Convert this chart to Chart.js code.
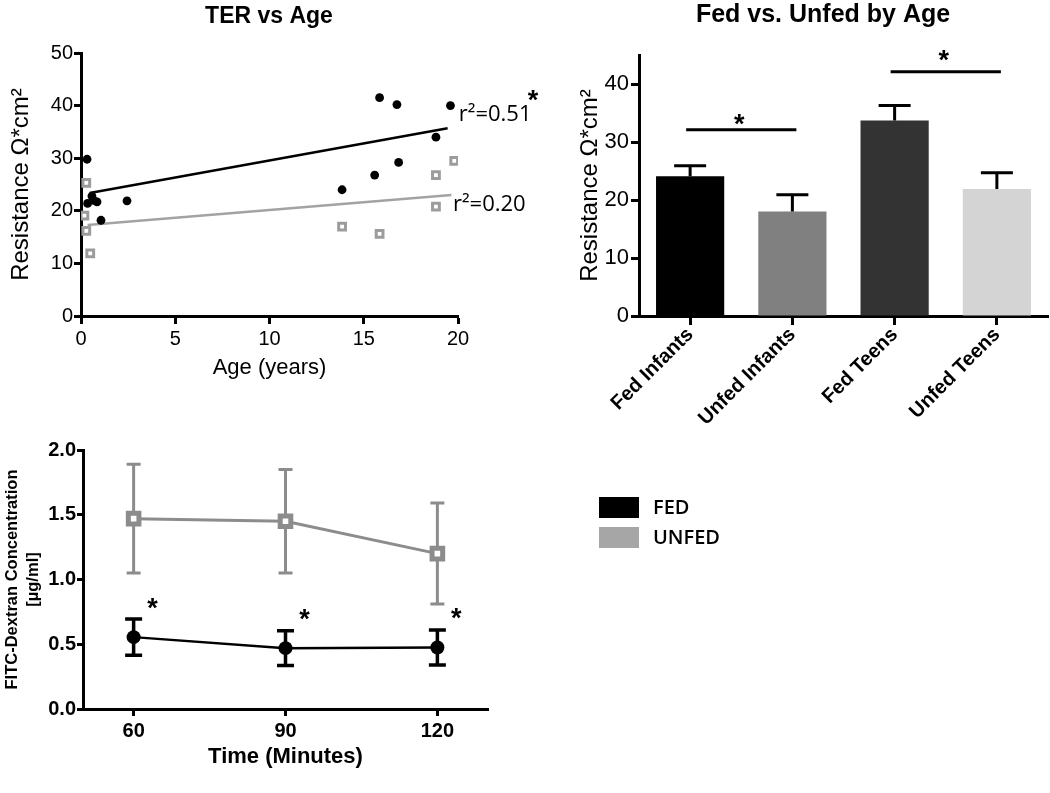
<!DOCTYPE html>
<html>
<head>
<meta charset="utf-8">
<title>TER and FITC-Dextran</title>
<script src="https://cdn.jsdelivr.net/npm/chart.js@4.4.1/dist/chart.umd.min.js"></script>
<style>
  body { margin: 0; background: #fff; }
  #wrap { position: relative; width: 1050px; height: 793px; overflow: hidden; }
  canvas { position: absolute; }
</style>
</head>
<body>
<div id="wrap">
  <canvas id="terAge" width="545" height="400" style="left:0;top:0"></canvas>
  <canvas id="fedBars" width="490" height="440" style="left:560px;top:0"></canvas>
  <canvas id="fitc" width="1050" height="373" style="left:0;top:420px"></canvas>
</div>
<script>
// TER vs Age (scatter + fitted lines)
let fedAge   = [0.32, 0.35, 0.58, 0.67, 0.85, 1.06, 2.44, 13.85, 15.58, 15.84, 16.76, 16.85, 18.83, 19.6];
let fedTer   = [29.8, 21.4, 22.8, 22.0, 21.7, 18.2, 21.9, 24.0, 26.8, 41.5, 40.2, 29.2, 34.0, 40.0];
let unfedAge = [0.28, 0.18, 0.28, 0.49, 13.85, 15.84, 18.83, 18.83, 19.8];
let unfedTer = [25.3, 19.1, 16.2, 11.9, 17.0, 15.6, 26.8, 20.8, 29.5];
let fedFitAge = [0.46, 19.45];
let fedFitTer = [23.4, 35.7];
let unfedFitAge = [0.35, 19.65];
let unfedFitTer = [17.3, 23.0];
let fitLabels = ['r²=0.51', 'r²=0.20'];
let ageTicks = [0, 5, 10, 15, 20];
let terTicks = [0, 10, 20, 30, 40, 50];

// Fed vs. Unfed by Age (mean + SEM)
let groups = ['Fed Infants', 'Unfed Infants', 'Fed Teens', 'Unfed Teens'];
let groupMean = [24.1, 18.0, 33.7, 21.9];
let groupSem = [1.8, 2.9, 2.6, 2.8];
let barTicks = [0, 10, 20, 30, 40];
let sigPairs = [[0, 1], [2, 3]];
let sigLevel = [32.1, 42.1];

// FITC-Dextran vs time
let minutes = [60, 90, 120];
let fedFitc = [0.555, 0.47, 0.475];
let fedFitcSem = [0.14, 0.135, 0.135];
let unfedFitc = [1.47, 1.45, 1.20];
let unfedFitcSem = [0.42, 0.40, 0.39];
let fitcTicks = [0, 0.5, 1.0, 1.5, 2.0];
let legendLabels = ['FED', 'UNFED'];

const FONT = "'Liberation Sans', Arial, sans-serif";
Chart.defaults.font.family = FONT;
Chart.defaults.color = '#000';
Chart.defaults.animation = false;
Chart.defaults.responsive = false;
Chart.defaults.plugins.legend.display = false;
Chart.defaults.plugins.tooltip.enabled = false;

function pairs(xs, ys) {
  return xs.map((x, i) => ({ x: x, y: ys[i] }));
}

function fixedTicks(list) {
  return function (scale) { scale.ticks = list.map(v => ({ value: v })); };
}

function axisLine(len) {
  return {
    grid: { drawOnChartArea: false, drawTicks: true, tickLength: len, tickWidth: 3, tickColor: '#000', offset: false },
    border: { display: true, color: '#000', width: 3 }
  };
}

// free text: x/y in data units, px/py in canvas pixels
const notes = {
  id: 'notes',
  afterDraw(chart, args, opts) {
    const ctx = chart.ctx;
    (opts.items || []).forEach(n => {
      let x = n.px, y = n.py;
      if (n.x !== undefined) x = chart.scales.x.getPixelForValue(n.x);
      if (n.y !== undefined) y = chart.scales.y.getPixelForValue(n.y);
      ctx.save();
      ctx.font = n.font;
      ctx.fillStyle = '#000';
      ctx.textAlign = n.align || 'center';
      ctx.textBaseline = n.baseline || 'middle';
      ctx.fillText(n.text, x + (n.dx || 0), y + (n.dy || 0));
      ctx.restore();
    });
  }
};

// upward SEM bars and significance brackets for the bar chart
const barErrors = {
  id: 'barErrors',
  afterDatasetsDraw(chart, args, opts) {
    const ctx = chart.ctx;
    const x = chart.scales.x, y = chart.scales.y;
    const bars = chart.getDatasetMeta(0).data;
    ctx.save();
    ctx.strokeStyle = '#000';
    ctx.lineWidth = 3;
    bars.forEach((bar, i) => {
      const top = y.getPixelForValue(groupMean[i] + groupSem[i]);
      ctx.beginPath();
      ctx.moveTo(bar.x, bar.y);
      ctx.lineTo(bar.x, top);
      ctx.moveTo(bar.x - 16, top);
      ctx.lineTo(bar.x + 16, top);
      ctx.stroke();
    });
    sigPairs.forEach((p, i) => {
      const x0 = x.getPixelForValue(p[0]) - 4;
      const x1 = x.getPixelForValue(p[1]) + 4;
      const yy = y.getPixelForValue(sigLevel[i]);
      ctx.beginPath();
      ctx.moveTo(x0, yy);
      ctx.lineTo(x1, yy);
      ctx.stroke();
      ctx.fillStyle = '#000';
      ctx.font = 'bold 27px ' + FONT;
      ctx.textAlign = 'center';
      ctx.textBaseline = 'alphabetic';
      ctx.fillText('*', (x0 + x1) / 2 - 2, yy + 3 - opts.starLift[i]);
    });
    ctx.restore();
  }
};

// symmetric SEM bars with caps for the time course
const lineErrors = {
  id: 'lineErrors',
  beforeDatasetsDraw(chart) {
    const ctx = chart.ctx;
    const x = chart.scales.x, y = chart.scales.y;
    ctx.save();
    chart.data.datasets.forEach(ds => {
      ctx.strokeStyle = ds.errColor;
      ctx.lineWidth = ds.errWidth;
      ds.data.forEach((p, i) => {
        const px = x.getPixelForValue(p.x);
        const hi = y.getPixelForValue(p.y + ds.sem[i]);
        const lo = y.getPixelForValue(p.y - ds.sem[i]);
        const c = ds.capWidth / 2;
        ctx.beginPath();
        ctx.moveTo(px, hi); ctx.lineTo(px, lo);
        ctx.moveTo(px - c, hi); ctx.lineTo(px + c, hi);
        ctx.moveTo(px - c, lo); ctx.lineTo(px + c, lo);
        ctx.stroke();
      });
    });
    ctx.restore();
  }
};

const sideLegend = {
  id: 'sideLegend',
  afterDraw(chart, args, opts) {
    const ctx = chart.ctx;
    ctx.save();
    legendLabels.forEach((txt, i) => {
      const top = opts.top + i * opts.step;
      ctx.fillStyle = opts.colors[i];
      ctx.fillRect(opts.left, top, opts.boxWidth, opts.boxHeight);
      ctx.fillStyle = '#000';
      ctx.font = opts.font;
      ctx.textAlign = 'left';
      ctx.textBaseline = 'middle';
      ctx.fillText(txt, opts.left + opts.boxWidth + 14, top + opts.boxHeight / 2 + 1);
    });
    ctx.restore();
  }
};

// ---- TER vs Age ----
new Chart(document.getElementById('terAge'), {
  type: 'scatter',
  data: {
    datasets: [
      { label: 'Fed', data: pairs(fedAge, fedTer), pointRadius: 4.4, borderWidth: 0, backgroundColor: '#000' },
      { label: 'Unfed', data: pairs(unfedAge, unfedTer), pointStyle: 'rect', pointRadius: 4.8, borderWidth: 3,
        borderColor: '#9c9c9c', backgroundColor: '#fff' },
      { label: 'Fed fit', type: 'line', data: pairs(fedFitAge, fedFitTer), borderColor: '#000', borderWidth: 2.5, pointRadius: 0 },
      { label: 'Unfed fit', type: 'line', data: pairs(unfedFitAge, unfedFitTer), borderColor: '#a3a3a3', borderWidth: 2.5, pointRadius: 0 }
    ]
  },
  options: {
    layout: { padding: { top: 53, right: 87, left: 0, bottom: 0 } },
    plugins: {
      notes: {
        items: [
          { text: 'TER vs Age', px: 269, py: 17, font: 'bold 23px ' + FONT },
          { text: fitLabels[0], x: 20.04, y: 38.2, align: 'left', font: '22px "Open Sans"' },
          { text: fitLabels[1], x: 19.73, y: 21.1, align: 'left', font: '22px "Open Sans"' },
          { text: '*', x: 23.98, y: 42.3, baseline: 'alphabetic', dy: 15, font: 'bold 27px ' + FONT }
        ]
      }
    },
    scales: {
      x: Object.assign(axisLine(8), {
        type: 'linear', min: 0, max: 20,
        afterBuildTicks: fixedTicks(ageTicks),
        afterFit: s => { s.height = 84; },
        ticks: { font: { size: 20 }, padding: 3 },
        title: { display: true, text: 'Age (years)', font: { size: 22 }, padding: { top: 0, bottom: 19 } }
      }),
      y: Object.assign(axisLine(7), {
        min: 0, max: 50,
        afterBuildTicks: fixedTicks(terTicks),
        afterFit: s => { s.width = 81; },
        ticks: { font: { size: 20 }, padding: 1 },
        title: { display: true, text: 'Resistance Ω*cm²', font: { size: 24 }, padding: { top: 7, bottom: 0 } }
      })
    }
  },
  plugins: [notes]
});

// ---- Fed vs. Unfed by Age ----
new Chart(document.getElementById('fedBars'), {
  type: 'bar',
  data: {
    labels: groups,
    datasets: [{
      label: 'Resistance',
      data: groupMean,
      backgroundColor: ['#000000', '#808080', '#333333', '#d4d4d4'],
      barPercentage: 0.667,
      categoryPercentage: 1
    }]
  },
  options: {
    layout: { padding: { top: 55, right: 2, left: 0, bottom: 0 } },
    plugins: {
      barErrors: { starLift: [0, 6] },
      notes: { items: [{ text: 'Fed vs. Unfed by Age', px: 263, py: 15, font: 'bold 25px ' + FONT }] }
    },
    scales: {
      x: Object.assign(axisLine(9), {
        afterFit: s => { s.height = 124; },
        ticks: { font: { size: 20, weight: 'bold' }, padding: -2, minRotation: 45, maxRotation: 45 }
      }),
      y: Object.assign(axisLine(8), {
        min: 0, max: 45,
        afterBuildTicks: fixedTicks(barTicks),
        afterFit: s => { s.width = 79; },
        ticks: { font: { size: 22 }, padding: 2 },
        title: { display: true, text: 'Resistance Ω*cm²', font: { size: 24 }, padding: { top: 16, bottom: 0 } }
      })
    }
  },
  plugins: [barErrors, notes]
});

// ---- FITC-Dextran ----
new Chart(document.getElementById('fitc'), {
  type: 'line',
  data: {
    datasets: [
      { label: 'FED', data: pairs(minutes, fedFitc), sem: fedFitcSem, errColor: '#000', errWidth: 3.5, capWidth: 17,
        borderColor: '#000', borderWidth: 2.5, pointRadius: 7, pointBackgroundColor: '#000', pointBorderWidth: 0 },
      { label: 'UNFED', data: pairs(minutes, unfedFitc), sem: unfedFitcSem, errColor: '#8c8c8c', errWidth: 3, capWidth: 14,
        borderColor: '#8c8c8c', borderWidth: 3, pointStyle: 'rect', pointRadius: 7.5, pointBorderWidth: 5,
        pointBorderColor: '#8c8c8c', pointBackgroundColor: '#fff' }
    ]
  },
  options: {
    layout: { padding: { top: 30, right: 562, left: 0, bottom: 0 } },
    plugins: {
      notes: {
        items: minutes.map((t, i) => ({ text: '*', x: t, y: fedFitc[i], dx: 19, dy: -20, baseline: 'alphabetic', font: 'bold 27px ' + FONT }))
      },
      sideLegend: { left: 599, top: 77, step: 30, boxWidth: 40, boxHeight: 21, colors: ['#000', '#a6a6a6'], font: '600 20px "Open Sans"' }
    },
    scales: {
      x: Object.assign(axisLine(7), {
        type: 'linear', min: 50, max: 130,
        afterBuildTicks: fixedTicks(minutes),
        afterFit: s => { s.height = 84; },
        ticks: { font: { size: 20, weight: 'bold' }, padding: 3 },
        title: { display: true, text: 'Time (Minutes)', font: { size: 22, weight: 'bold' }, padding: { top: 0, bottom: 23 } }
      }),
      y: Object.assign(axisLine(6), {
        min: 0, max: 2,
        afterBuildTicks: fixedTicks(fitcTicks),
        afterFit: s => { s.width = 83; },
        ticks: { font: { size: 20, weight: 'bold' }, padding: 1, callback: v => v.toFixed(1) },
        title: { display: true, text: ['FITC-Dextran Concentration', '[µg/ml]'], font: { size: 16.5, weight: 'bold', lineHeight: 1.27 },
          padding: { top: 2, bottom: 0 } }
      })
    }
  },
  plugins: [lineErrors, notes, sideLegend]
});
</script>
</body>
</html>
